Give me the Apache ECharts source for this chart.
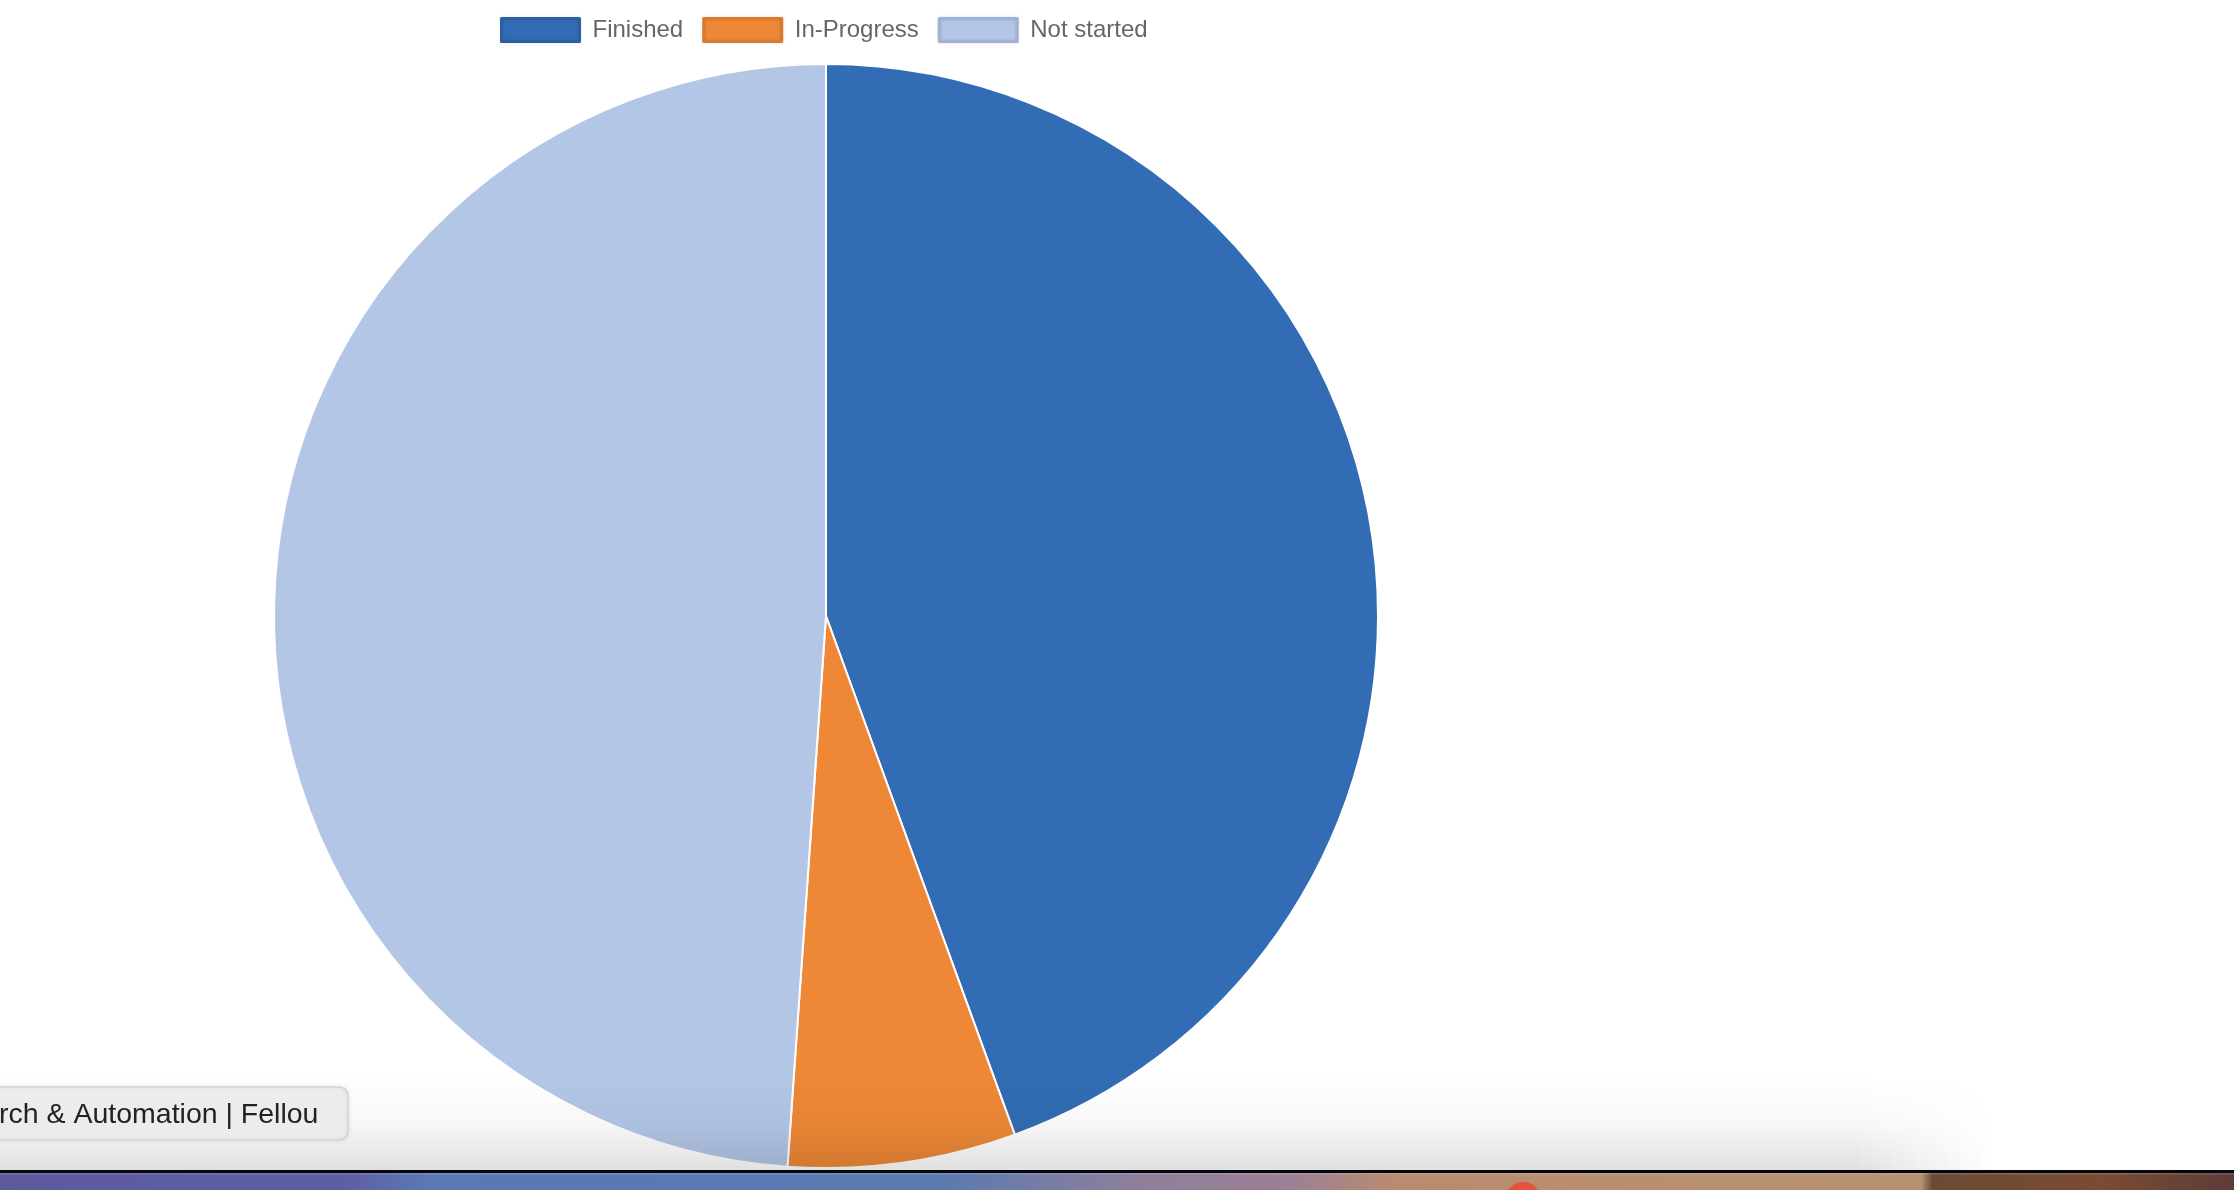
<!DOCTYPE html>
<html>
<head>
<meta charset="utf-8">
<script src="https://cdn.jsdelivr.net/npm/echarts@6/dist/echarts.min.js"></script>
<style>
html,body{margin:0;padding:0;background:#fff;}
#chart{width:2234px;height:1190px;}
</style>
</head>
<body>
<div id="chart"></div>
<script>
// ---- data ----
var categories = ['Finished', 'In-Progress', 'Not started'];
var values = [20, 3, 22];
var colors = ['#316cb4', '#ee8836', '#b3c6e6'];
var legendBorders = ['#2d5f9f', '#d97a2e', '#9fb2d5'];
var tooltipText = 'rch & Automation | Fellou';

var chart = echarts.init(document.getElementById('chart'), null, {renderer: 'canvas'});

var pieData = categories.map(function (c, i) {
  return {name: c, value: values[i], itemStyle: {color: colors[i]}};
});
var legendData = categories.map(function (c, i) {
  return {name: c, itemStyle: {color: colors[i], borderColor: legendBorders[i], borderWidth: 3,
    shadowColor: 'rgba(0,0,0,0.12)', shadowBlur: 3}};
});

var FONT = '"Liberation Sans", Arial, Helvetica, sans-serif';

// soft shadow strips at the bottom of the window (decoration)
var shadowGraphics = [
  {type: 'rect', z: 100, shape: {x: 0, y: 1075, width: 1860, height: 96},
    style: {fill: new echarts.graphic.LinearGradient(0, 0, 0, 1, [
      {offset: 0, color: 'rgba(0,0,0,0)'},
      {offset: 0.5, color: 'rgba(0,0,0,0.03)'},
      {offset: 1, color: 'rgba(0,0,0,0.12)'}])}}
];
for (var k = 0; k < 12; k++) {
  shadowGraphics.push({type: 'rect', z: 100, shape: {x: 1860 + k * 11, y: 1075, width: 11, height: 96},
    style: {opacity: 1 - (k + 1) / 13, fill: new echarts.graphic.LinearGradient(0, 0, 0, 1, [
      {offset: 0, color: 'rgba(0,0,0,0)'},
      {offset: 0.5, color: 'rgba(0,0,0,0.03)'},
      {offset: 1, color: 'rgba(0,0,0,0.12)'}])}});
}

chart.setOption({
  animation: false,
  backgroundColor: '#ffffff',
  legend: {
    left: 500,
    top: 17,
    padding: 0,
    icon: 'rect',
    itemWidth: 78,
    itemHeight: 23,
    itemGap: 19,
    selectedMode: false,
    data: legendData,
    textStyle: {fontFamily: FONT, fontSize: 24, color: '#666666', padding: [0, 0, 0, 8]}
  },
  series: [{
    type: 'pie',
    center: [826, 616],
    radius: [0, 552],
    startAngle: 90,
    clockwise: true,
    label: {show: false},
    labelLine: {show: false},
    emphasis: {disabled: true},
    itemStyle: {borderColor: '#ffffff', borderWidth: 2},
    data: pieData
  }],
  graphic: shadowGraphics.concat([
    // tab tooltip
    {type: 'rect', z: 110, shape: {x: -20, y: 1087, width: 368, height: 53, r: 9},
      style: {fill: '#ececee', stroke: '#d2d2d4', lineWidth: 1.5,
        shadowColor: 'rgba(0,0,0,0.08)', shadowBlur: 4}},
    {type: 'text', z: 111, x: -1, y: 1115,
      style: {text: tooltipText, fill: '#222222', font: '28.5px ' + FONT, textVerticalAlign: 'middle', textAlign: 'left'}},
    // dock / taskbar
    {type: 'rect', z: 120, shape: {x: 0, y: 1170, width: 2234, height: 3}, style: {fill: '#05070f'}},
    {type: 'rect', z: 120, shape: {x: 0, y: 1173, width: 2234, height: 17},
      style: {fill: new echarts.graphic.LinearGradient(0, 0, 1, 0, [
        {offset: 0, color: '#5d5a9c'},
        {offset: 0.155, color: '#5e5fa2'},
        {offset: 0.19, color: '#5b78b0'},
        {offset: 0.42, color: '#5a7ab0'},
        {offset: 0.51, color: '#8f7f9a'},
        {offset: 0.575, color: '#9a8096'},
        {offset: 0.625, color: '#b98b70'},
        {offset: 0.86, color: '#b69272'},
        {offset: 0.865, color: '#6b4a35'},
        {offset: 0.94, color: '#7a4c32'},
        {offset: 1, color: '#5c3c3a'}])}},
    {type: 'rect', z: 121, shape: {x: 0, y: 1173, width: 2234, height: 1.5}, style: {fill: 'rgba(255,255,255,0.15)'}},
    {type: 'circle', z: 122, shape: {cx: 1523, cy: 1200, r: 18}, style: {fill: '#e5533f'}}
  ])
});
</script>
</body>
</html>
